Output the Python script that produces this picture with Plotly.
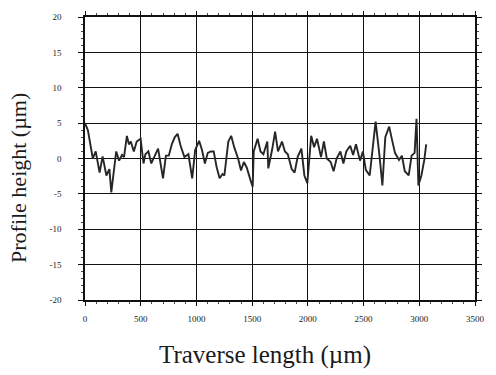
import plotly.graph_objects as go

# Surface profile: traverse position (µm) and measured height (µm)
position_px = [85, 88, 93, 96, 100, 103, 107, 110, 112, 115, 117, 120, 123, 125, 128, 130,
               132, 135, 138, 142, 145, 147, 150, 153, 156, 160, 165, 168, 171, 174, 177,
               180, 183, 187, 191, 195, 198, 202, 205, 208, 211, 214, 217, 220, 223, 226,
               228, 232, 235, 238, 242, 245, 248, 251, 255, 257, 258, 262, 265, 268, 272,
               273, 277, 280, 283, 287, 290, 293, 297, 300, 303, 307, 310, 313, 317, 320,
               323, 327, 330, 333, 337, 340, 343, 347, 350, 353, 357, 360, 363, 367, 370,
               373, 377, 380, 383, 387, 390, 393, 397, 400, 403, 407, 410, 413, 417, 420,
               423, 425, 427, 430, 433, 435]
traverse_um = [round((p - 85) * 8.75) for p in position_px]
height_um = [5.0, 4.0, 0.0, 1.0, -2.0, 0.3, -2.4, -1.5, -4.8, -1.0, 1.0, -0.3, 0.5, 0.2, 3.2, 2.0,
             2.4, 1.0, 2.4, 2.8, -0.7, 0.6, 1.0, -0.7, 0.3, 1.4, -2.8, 0.4, 0.4, 2.0, 3.0,
             3.5, 1.8, 0.2, 0.6, -2.8, 1.2, 2.5, 1.2, -0.7, 0.8, 1.0, 1.0, -1.2, -2.8, -2.2,
             -2.4, 2.4, 3.2, 1.6, 0.0, -1.7, -0.5, -1.3, -3.2, -4.0, 1.0, 2.8, 1.0, 0.6, 2.4,
             -1.4, 1.3, 3.8, 1.0, 2.4, 1.0, 0.6, -1.5, -2.0, 0.2, 1.4, -2.4, -3.5, 3.2, 1.6,
             2.8, 0.2, 2.4, 0.0, -0.5, -1.8, 0.0, 1.0, -0.7, 1.0, 1.8, 0.5, 2.0, -0.3, 1.0,
             -1.6, -2.4, 1.4, 5.2, 0.5, -3.8, 3.0, 4.5, 2.6, 0.8, -0.2, 0.4, -1.8, -2.4, 0.4,
             0.8, 5.6, -3.8, -2.4, -0.2, 2.0]

x_ticks = [0, 500, 1000, 1500, 2000, 2500, 3000, 3500]
y_ticks = [20, 15, 10, 5, 0, -5, -10, -15, -20]
y_tick_labels = ["20", "15", "10", "5", "0", "-5", "-10", "-15", "-20"]

fig = go.Figure()
fig.add_trace(go.Scatter(
    x=traverse_um, y=height_um, mode="lines",
    line=dict(color="#262626", width=1.9),
    showlegend=False,
))

tick_font = dict(family="Liberation Serif", size=9, color="#222222")

fig.update_xaxes(
    range=[0, 3500], tickvals=x_ticks, ticktext=[str(v) for v in x_ticks],
    showgrid=True, gridcolor="#111111", gridwidth=1.4,
    showline=True, linecolor="#111111", linewidth=1.6, mirror="ticks",
    ticks="outside", ticklen=4, tickcolor="#111111",
    minor=dict(ticks="outside", ticklen=2, dtick=100, tickcolor="#444444"),
    tickfont=tick_font, ticklabelstandoff=5, zeroline=False,
)
fig.update_yaxes(
    range=[-20, 20], tickvals=y_ticks, ticktext=y_tick_labels,
    showgrid=True, gridcolor="#111111", gridwidth=1.4,
    showline=True, linecolor="#111111", linewidth=1.6, mirror="ticks",
    ticks="outside", ticklen=5, tickcolor="#111111",
    minor=dict(ticks="outside", ticklen=2, dtick=1, tickcolor="#444444"),
    tickfont=tick_font, ticklabelstandoff=15, zeroline=False,
)

# Axis titles placed as paper-anchored annotations
fig.add_annotation(
    text="Traverse length (µm)", xref="paper", yref="paper",
    x=0.4625, y=-0.193, xanchor="center", yanchor="middle", showarrow=False,
    font=dict(family="Liberation Serif", size=25, color="#1a1a1a"),
)
fig.add_annotation(
    text="Profile height (µm)", xref="paper", yref="paper",
    x=-0.17, y=0.43, xanchor="center", yanchor="middle", showarrow=False,
    textangle=-90,
    font=dict(family="Liberation Serif", size=22, color="#1a1a1a"),
)

fig.update_layout(
    width=496, height=375,
    margin=dict(l=85, r=11, t=15, b=75),
    paper_bgcolor="white", plot_bgcolor="white",
)

fig.write_html("out.html")
